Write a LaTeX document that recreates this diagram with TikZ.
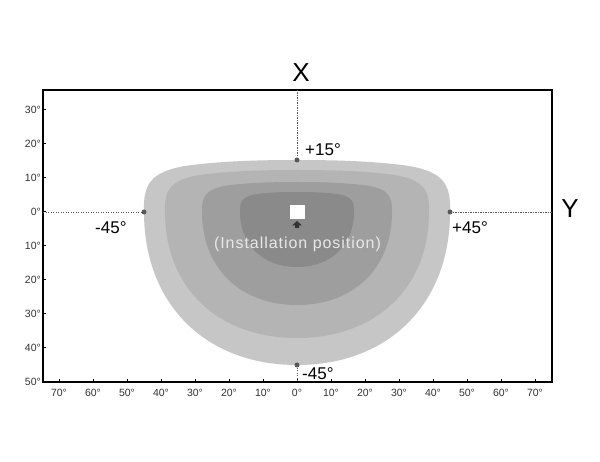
\documentclass[tikz,border=0pt]{standalone}
\usepackage{fontspec}
\setmainfont{Liberation Sans}
\newfontfamily\spacedfont[LetterSpace=6]{Liberation Sans}
\definecolor{zoneA}{HTML}{C6C6C6}
\definecolor{zoneB}{HTML}{B4B4B4}
\definecolor{zoneC}{HTML}{9E9E9E}
\definecolor{zoneD}{HTML}{8A8A8A}
\newcommand\zonelayer[4]{%
  \pgfmathsetmacro\zs{#1/153}%
  \pgfmathsetmacro\zu{#2/52}%
  \pgfmathsetmacro\zk{0.6}%
  \fill[#4] ({297-#1},212) .. controls ({297-154*\zs},{212-27*\zu}) and ({297-147*\zs},{212-40*\zu}) .. ({297-112*\zs},{212-46*\zu})
    .. controls ({297-77*\zs},{212-51*\zu}) and ({297-37*\zs},{212-#2}) .. (297,{212-#2})
    .. controls ({297+37*\zs},{212-#2}) and ({297+77*\zs},{212-51*\zu}) .. ({297+112*\zs},{212-46*\zu})
    .. controls ({297+147*\zs},{212-40*\zu}) and ({297+154*\zs},{212-27*\zu}) .. ({297+#1},212)
    .. controls ({297+#1},{212+#3*\zk}) and ({297+#1*\zk},{212+#3}) .. (297,{212+#3})
    .. controls ({297-#1*\zk},{212+#3}) and ({297-#1},{212+#3*\zk}) .. cycle;
}
\begin{document}
\begin{tikzpicture}[x=1pt,y=-1pt,
  ticklabel/.style={font=\fontsize{10.5}{11}\selectfont, text=black!80, inner sep=0pt},
  anglelabel/.style={font=\fontsize{17}{18}\selectfont, inner sep=0pt},
  axislabel/.style={font=\fontsize{26}{28}\selectfont, inner sep=0pt},
  guide/.style={draw=black!65, line width=0.9pt, dash pattern=on 1.3pt off 1.2pt},
  marker/.style={circle, fill=black!65, inner sep=0pt, minimum size=5pt},
  frameline/.style={line width=1.6pt},
  tickline/.style={line width=1pt}]
\useasboundingbox[fill=white] (0,0) rectangle (600,462);

% zones
\zonelayer{153}{52}{153}{zoneA}
\zonelayer{132}{42}{126}{zoneB}
\zonelayer{95}{30}{93}{zoneC}
\zonelayer{57}{20}{55}{zoneD}

% frame
\draw[frameline] (43,90) rectangle (552,382);
\coordinate (ftop) at (297,90);
\coordinate (fleft) at (43,212);
\coordinate (fright) at (552,212);
\coordinate (fbot) at (297,382);

% ticks left
\foreach \v [count=\i from 0] in {30,20,10,0,10,20,30,40,50}{
  \pgfmathsetmacro\yy{110+34*\i}
  \draw[tickline] (43,\yy) -- (46,\yy);
  \node[ticklabel, anchor=base east] (ly\i) at (41,\yy+3.8) {\v°};
}
% ticks bottom
\foreach \v [count=\i from 0] in {70,60,50,40,30,20,10,0,10,20,30,40,50,60,70}{
  \pgfmathsetmacro\xx{59+34*\i}
  \draw[tickline] (\xx,382) -- (\xx,379);
  \node[ticklabel, anchor=base] (lx\i) at (\xx,396) {\v°};
}

% markers and guides
\node[marker] (p15) at (297,160) {};
\node[marker] (m45l) at (144,212) {};
\node[marker] (p45r) at (450,212) {};
\node[marker] (m45b) at (297,365) {};
\draw[guide] (ftop) -- (p15);
\draw[guide] (fleft) -- (m45l);
\draw[guide] (p45r) -- (fright);
\draw[guide] (m45b) -- (fbot);

% angle labels
\node[anglelabel, anchor=base west] (t15) at (305,155.7) {+15°};
\node[anglelabel, anchor=base west] (t45l) at (95,233.3) {-45°};
\node[anglelabel, anchor=base west] (t45r) at (452,233.7) {+45°};
\node[anglelabel, anchor=base west] (t45b) at (302,380) {-45°};

% axis labels
\node[axislabel, anchor=base] (axX) at (301,82) {X};
\node[axislabel, anchor=base] (axY) at (570,218) {Y};

% sensor
\node[fill=white, minimum width=15pt, minimum height=14pt, inner sep=0pt] (sensor) at (297,212) {};
\fill[black!80] (297,221) -- (302,225.5) -- (299,225.5) -- (299,228) -- (295,228) -- (295,225.5) -- (292,225.5) -- cycle;
\node[anchor=base, inner sep=0pt, text=black!9, font=\spacedfont\fontsize{16}{18}\selectfont] (inst) at (297.5,249) {(Installation position)};
\end{tikzpicture}
\end{document}
